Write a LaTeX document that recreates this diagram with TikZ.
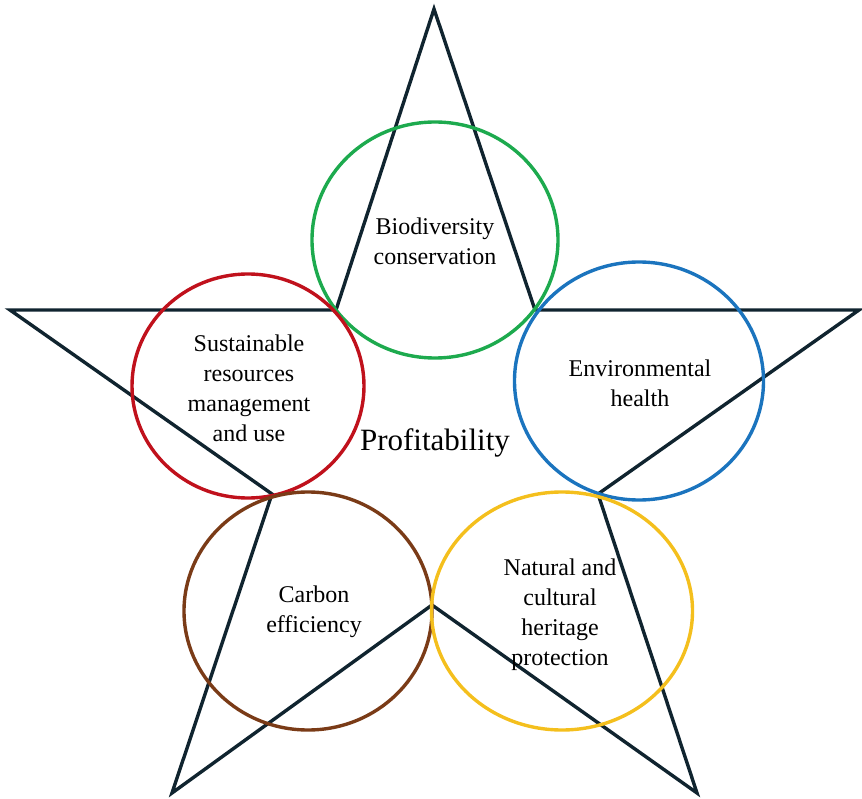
\documentclass[tikz,border=0pt]{standalone}
\usepackage{fontspec}
\setmainfont{Liberation Serif}
\usetikzlibrary{shapes.geometric, positioning}
\definecolor{starline}{HTML}{10242F}
\definecolor{biogreen}{HTML}{1DAA4E}
\definecolor{resred}{HTML}{C0111C}
\definecolor{envblue}{HTML}{1B74BE}
\definecolor{carbbrown}{HTML}{7A3B17}
\definecolor{herityellow}{HTML}{F4BF1D}
\tikzset{
  ring/.style={ellipse, draw=#1, line width=3.4pt, inner sep=0pt},
  label/.style={align=center, font=\fontsize{24}{30}\selectfont},
}
\begin{document}
\begin{tikzpicture}[x=1pt, y=-1pt]
\useasboundingbox (0,0) rectangle (862,799);
% star points
\coordinate (top) at (434,9);
\coordinate (inUR) at (535,310);
\coordinate (right) at (859,310);
\coordinate (inR) at (598,494);
\coordinate (botR) at (697,793);
\coordinate (inB) at (432,605);
\coordinate (botL) at (172,793);
\coordinate (inL) at (272,494);
\coordinate (left) at (10,310);
\coordinate (inUL) at (336,310);
\draw[starline, line width=3.4pt, line join=miter]
  (top) -- (inUR) -- (right) -- (inR) -- (botR) -- (inB) -- (botL) -- (inL) -- (left) -- (inUL) -- cycle;

\node[ring=biogreen, minimum width=246pt, minimum height=236pt] (bio) at (435,240) {};
\node[ring=resred, minimum width=232pt, minimum height=224pt] (res) at (248,386) {};
\node[ring=envblue, minimum width=249pt, minimum height=238pt] (env) at (639,381) {};
\node[ring=carbbrown, minimum width=248pt, minimum height=238pt] (carb) at (308,611) {};
\node[ring=herityellow, minimum width=261pt, minimum height=238pt] (herit) at (562,611) {};

\node[label] (biotext) at (435,241) {Biodiversity\\conservation};
\node[label] (restext) at (249,388) {Sustainable\\resources\\management\\and use};
\node[label] (envtext) at (640,383) {Environmental\\health};
\node[label] (carbtext) at (314,612) {Carbon\\efficiency};
\node[label] (herittext) at (560,615) {Natural and\\cultural\\heritage\\protection};
\node[font=\fontsize{31}{37}\selectfont] (profit) at (435,443) {Profitability};
\end{tikzpicture}
\end{document}
